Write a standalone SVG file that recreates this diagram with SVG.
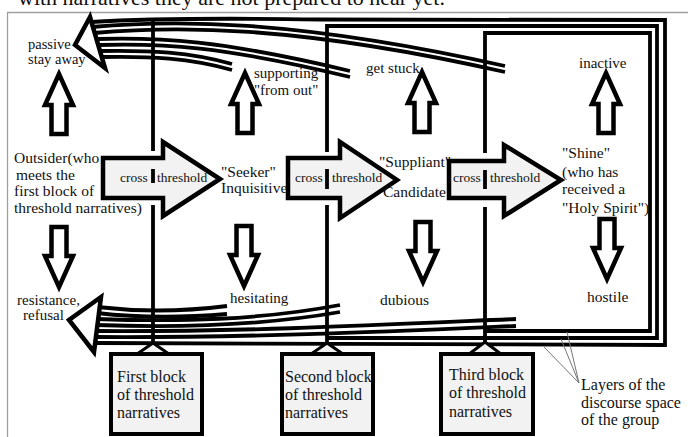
<svg xmlns="http://www.w3.org/2000/svg" xmlns:xlink="http://www.w3.org/1999/xlink" width="688" height="437" viewBox="0 0 688 437">
<style>
text{font-family:"Liberation Serif","Times New Roman",serif;fill:#111}
.ln{fill:none;stroke:#000;stroke-width:3.8}
.blk{fill:#fff;stroke:#000;stroke-width:4.5;stroke-linejoin:miter}
.big{fill:#f2f2f2;stroke:#000;stroke-width:4.5;stroke-linejoin:miter}
.box{fill:#f2f2f2;stroke:#000;stroke-width:4}
.tri{fill:#f2f2f2;stroke:#000;stroke-width:3;stroke-linejoin:miter}
.ptr{fill:none;stroke:#777;stroke-width:1}
.s14{font-size:14.5px}.s15{font-size:15px}.s155{font-size:15.5px}.s16{font-size:16px}.s13{font-size:13.5px}
</style>
<defs>
<path id="up" d="M0,0 L14,31 L7.5,31 L7.5,60 L-7.5,60 L-7.5,31 L-14,31 Z"/>
<path id="down" d="M0,0 L14,-31 L7.5,-31 L7.5,-60 L-7.5,-60 L-7.5,-31 L-14,-31 Z"/>
</defs>
<rect width="688" height="437" fill="#fff"/>
<text x="18" y="5" style="font-size:22px">with narratives they are not prepared to hear yet.</text>
<path d="M7.5,437 L7.5,12.5 L688,12.5" fill="none" stroke="#a0a0a0" stroke-width="1.3"/>

<g id="connectors">
  <!-- layers of the discourse space -->
  <path class="ln" d="M91,22 C140,19 220,18 320,19.5 L665,20 L665,345 L96,343"/>
  <path class="ln" d="M327,152 L327,26 L657,26 L657,338 L327,338"/>
  <path class="ln" d="M485,153 L485,33 L650,33 L650,331 L485,331"/>
  <!-- top bundle -->
  <path class="ln" d="M92,27 C170,20 290,18 505,66"/>
  <path class="ln" d="M94,33 C172,26 292,24 505,72"/>
  <path class="ln" d="M96,39 C160,37 220,40 350,71"/>
  <path class="ln" d="M98,45 C162,43 222,46 350,77"/>
  <path class="ln" d="M99,51 C150,50 190,52 232,64"/>
  <path class="ln" d="M101,57 C150,56 190,58 232,70"/>
  <!-- bottom bundle -->
  <path class="ln" d="M97,307 C140,312 180,312 227,306"/>
  <path class="ln" d="M97,313 C140,318 180,318 227,314"/>
  <path class="ln" d="M96,319 C180,322 260,320 340,305"/>
  <path class="ln" d="M96,325 C180,328 260,326 340,312"/>
  <path class="ln" d="M96,331 C250,332 400,324 516,319"/>
  <path class="ln" d="M96,337 C250,338 400,331 516,326"/>
  <!-- vertical layer boundaries -->
  <path class="ln" d="M153,20 L153,151 M153,205 L153,345"/>
  <path class="ln" d="M327,205 L327,345"/>
  <path class="ln" d="M485,207 L485,343"/>
  <!-- arrowheads of leaving -->
  <path class="blk" d="M90,17 L75,45 L105,68 Z"/>
  <path class="blk" d="M101,297 L69,320 L94,352 Z"/>
  <!-- pointer lines -->
  <path class="ptr" d="M579,383 L544,347 M579,383 L561,339 M579,383 L567,332"/>
</g>

<g id="cross1">
  <path class="big" d="M103,158 L163,158 L163,142 L220,179 L163,216 L163,198 L103,198 Z"/>
  <path class="ln" d="M153,169 L153,183"/>
  <text class="s13" x="120" y="182">cross</text>
  <text class="s13" x="157" y="182">threshold</text>
</g>
<g id="cross2">
  <path class="big" d="M288,158 L340,158 L340,142 L397,180 L340,218 L340,198 L288,198 Z"/>
  <path class="ln" d="M327,169 L327,189"/>
  <text class="s13" x="295" y="182">cross</text>
  <text class="s13" x="332" y="182">threshold</text>
</g>
<g id="cross3">
  <path class="big" d="M449,161 L504,161 L504,145 L561,180 L504,216 L504,198 L449,198 Z"/>
  <path class="ln" d="M485,170 L485,189"/>
  <text class="s13" x="453" y="182">cross</text>
  <text class="s13" x="490" y="182">threshold</text>
</g>

<g id="outsider">
  <text class="s155" x="14" y="163">Outsider(who</text>
  <text class="s155" x="16" y="180">meets the</text>
  <text class="s155" x="14" y="196">first block of</text>
  <text class="s155" x="14" y="213">threshold narratives)</text>
</g>
<g id="seeker">
  <text class="s155" x="221" y="177">"Seeker"</text>
  <text class="s155" x="221" y="193">Inquisitive</text>
</g>
<g id="suppliant">
  <text class="s155" x="379" y="167">"Suppliant"</text>
  <text class="s155" x="383" y="197">Candidate</text>
</g>
<g id="shine">
  <text class="s155" x="562" y="158">"Shine"</text>
  <text class="s155" x="562" y="177">(who has</text>
  <text class="s155" x="562" y="194">received a</text>
  <text class="s155" x="562" y="213">"Holy Spirit")</text>
</g>

<g id="up-arrows">
  <use xlink:href="#up" class="blk" x="59" y="74"/>
  <use xlink:href="#up" class="blk" x="245" y="73"/>
  <use xlink:href="#up" class="blk" x="422" y="72"/>
  <use xlink:href="#up" class="blk" x="606" y="73"/>
</g>
<g id="down-arrows">
  <use xlink:href="#down" class="blk" x="59" y="287"/>
  <use xlink:href="#down" class="blk" x="244" y="286"/>
  <use xlink:href="#down" class="blk" x="423" y="282"/>
  <use xlink:href="#down" class="blk" x="607" y="279"/>
</g>

<g id="passive"><text class="s14" x="28" y="49">passive</text><text class="s14" x="28" y="64">stay away</text></g>
<g id="supporting"><text class="s15" x="254" y="78">supporting</text><text class="s15" x="254" y="95">"from out"</text></g>
<g id="getstuck"><text class="s15" x="366" y="73">get stuck</text></g>
<g id="inactive"><text class="s15" x="579" y="68">inactive</text></g>
<g id="resistance"><text class="s15" x="17" y="305">resistance,</text><text class="s15" x="23" y="320">refusal</text></g>
<g id="hesitating"><text class="s15" x="230" y="303">hesitating</text></g>
<g id="dubious"><text class="s155" x="380" y="305">dubious</text></g>
<g id="hostile"><text class="s155" x="587" y="302">hostile</text></g>

<g id="block1">
  <path class="tri" d="M153,343 L169,354 L137,354 Z"/>
  <rect class="box" x="111" y="354" width="91" height="80"/>
  <text class="s16" x="117" y="382">First block</text>
  <text class="s16" x="117" y="400">of threshold</text>
  <text class="s16" x="117" y="418">narratives</text>
</g>
<g id="block2">
  <path class="tri" d="M327,343 L343,354 L311,354 Z"/>
  <rect class="box" x="282" y="354" width="91" height="80"/>
  <text class="s16" x="285" y="382">Second block</text>
  <text class="s16" x="285" y="400">of threshold</text>
  <text class="s16" x="285" y="418">narratives</text>
</g>
<g id="block3">
  <path class="tri" d="M485,342 L501,354 L469,354 Z"/>
  <rect class="box" x="441" y="354" width="92" height="80"/>
  <text class="s16" x="449" y="380">Third block</text>
  <text class="s16" x="449" y="398">of threshold</text>
  <text class="s16" x="449" y="417">narratives</text>
</g>
<g id="layers-label">
  <text class="s16" x="581" y="390">Layers of the</text>
  <text class="s16" x="581" y="408">discourse space</text>
  <text class="s16" x="581" y="425">of the group</text>
</g>
</svg>
